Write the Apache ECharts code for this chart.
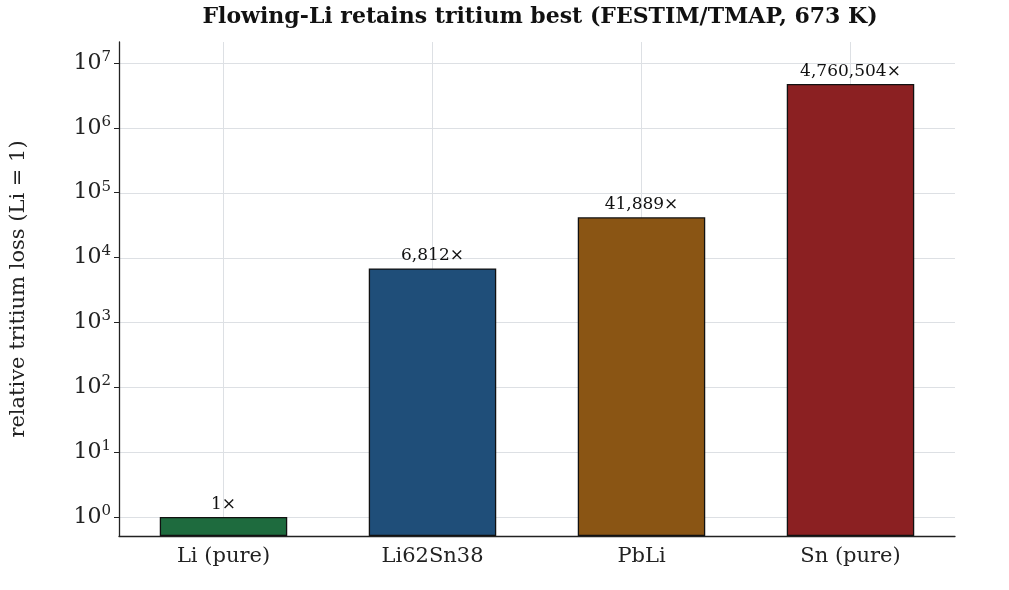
<!DOCTYPE html>
<html><head><meta charset="utf-8">
<script src="https://cdn.jsdelivr.net/npm/echarts@6/dist/echarts.min.js"></script>
<style>html,body{margin:0;padding:0;background:#fff}#c{width:1009px;height:590px}</style>
</head><body><div id="c"></div>
<script>
const categories = ["Li (pure)", "Li62Sn38", "PbLi", "Sn (pure)"];
const values = [1, 6812, 41889, 4760504];
const decades = [0, 1, 2, 3, 4, 5, 6, 7];
const colors = ["#1e6b3e", "#1f4e79", "#8a5514", "#8b2022"];
const F = "DejaVu Serif";
const LOGMIN = -0.293, LOGMAX = 7.324;   // axis extent in decades
const off = -LOGMIN;                      // shift so bars start at axis bottom
const tickPos = decades.map(d => d + off);
const chart = echarts.init(document.getElementById('c'));
chart.setOption({
  animation: false,
  title: { text: "Flowing-Li retains tritium best (FESTIM/TMAP, 673 K)", left: 535, top: 1, textAlign: 'center',
    textStyle: { fontFamily: F, fontWeight: 'bold', fontSize: 22, color: '#111' } },
  grid: { left: 117, right: 54, top: 42, bottom: 54 },
  xAxis: { type: 'category', data: categories,
    axisLine: { lineStyle: { color: '#222', width: 1.3 } },
    axisTick: { alignWithLabel: true, length: 5, lineStyle: { color: '#222' } },
    splitLine: { show: false },
    axisLabel: { fontFamily: F, fontSize: 21, color: '#222', margin: 10 } },
  yAxis: { type: 'value', min: 0, max: LOGMAX + off,
    name: "relative tritium loss (Li = 1)", nameLocation: 'middle', nameGap: 90,
    nameTextStyle: { fontFamily: F, fontSize: 21, color: '#222' },
    axisLine: { show: true, lineStyle: { color: '#222', width: 1.3 } },
    axisTick: { show: true, length: 5, lineStyle: { color: '#222' }, customValues: tickPos },
    splitLine: { show: false },
    axisLabel: { fontFamily: F, fontSize: 22, color: '#222', margin: 8, customValues: tickPos,
      formatter: v => '10{s|' + Math.round(v - off) + '}',
      rich: { s: { fontFamily: F, fontSize: 15, verticalAlign: 'top', padding: [0, 0, 12, 0] } } } },
  series: [{
    type: 'bar', barWidth: '61%',
    data: values.map((v, i) => ({ value: Math.log10(v) + off, raw: v, itemStyle: { color: colors[i] } })),
    itemStyle: { borderColor: '#111', borderWidth: 1.3 },
    label: { show: true, position: 'top', distance: 4, fontFamily: F, fontSize: 17, color: '#111',
      formatter: p => values[p.dataIndex].toLocaleString('en-US') + '×' },
    markLine: { silent: true, symbol: 'none', z: 0, label: { show: false },
      lineStyle: { color: '#dde0e4', type: 'solid', width: 1 },
      data: tickPos.map(t => ({ yAxis: t })).concat(categories.map(c => ({ xAxis: c }))) }
  }]
});
</script></body></html>
